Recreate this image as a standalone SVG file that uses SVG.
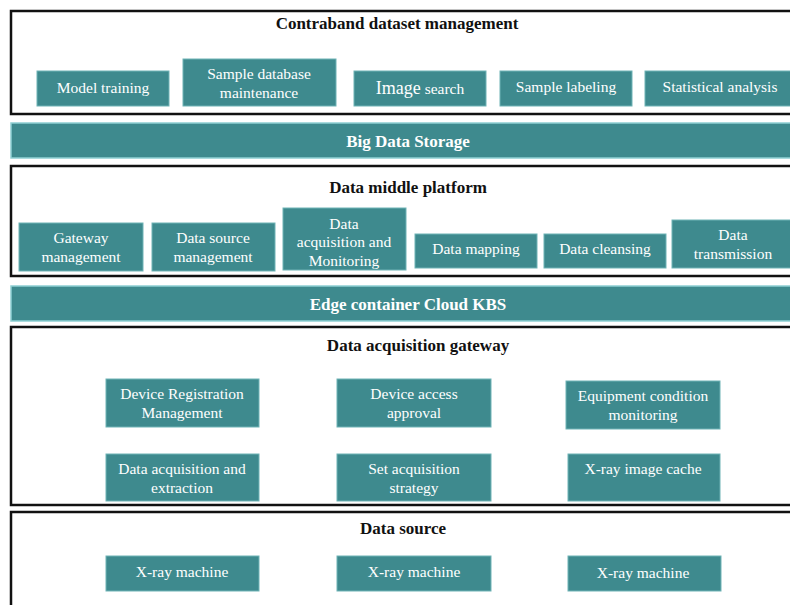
<svg xmlns="http://www.w3.org/2000/svg" width="790" height="605" viewBox="0 0 790 605" font-family="Liberation Serif, Times New Roman, DejaVu Serif, serif">
<style>
.panel{fill:#fff;stroke:#111;stroke-width:2.5}
.box{fill:#3e8a8e;stroke:#6fb3b6;stroke-width:1}
.bar{fill:#3e8a8e;stroke:#8fd0d3;stroke-width:1.5}
.t{font-size:15.5px;fill:#fff;text-anchor:middle}
.h{font-size:17px;font-weight:bold;fill:#111;text-anchor:middle}
.hb{font-size:17px;font-weight:bold;fill:#fff;text-anchor:middle}
</style>
<rect width="790" height="605" fill="#fff"/>
<g id="layer-contraband">
<rect class="panel" x="11" y="11" width="782" height="103"/>
<text class="h" x="397" y="29">Contraband dataset management</text>
</g>
<g id="model-training"><rect class="box" x="37" y="71" width="132" height="35"/><text class="t" x="103" y="93">Model training</text></g>
<g id="sample-db"><rect class="box" x="183" y="59" width="153" height="47"/><text class="t" x="259" y="79">Sample database</text><text class="t" x="259" y="98">maintenance</text></g>
<g id="image-search"><rect class="box" x="354" y="71" width="132" height="35"/><text class="t" x="420" y="94"><tspan font-size="18">Image</tspan> search</text></g>
<g id="sample-labeling"><rect class="box" x="500" y="71" width="132" height="35"/><text class="t" x="566" y="92">Sample labeling</text></g>
<g id="statistical-analysis"><rect class="box" x="645" y="71" width="150" height="35"/><text class="t" x="720" y="92">Statistical analysis</text></g>
<g id="big-data-storage"><rect class="bar" x="11" y="123" width="782" height="35"/><text class="hb" x="408" y="147">Big Data Storage</text></g>
<g id="layer-middle">
<rect class="panel" x="11" y="166" width="782" height="110"/>
<text class="h" x="408" y="193">Data middle platform</text>
</g>
<g id="gateway-management"><rect class="box" x="19" y="223" width="124" height="48"/><text class="t" x="81" y="243">Gateway</text><text class="t" x="81" y="262">management</text></g>
<g id="data-source-management"><rect class="box" x="152" y="223" width="123" height="48"/><text class="t" x="213" y="243">Data source</text><text class="t" x="213" y="262">management</text></g>
<g id="data-acq-monitoring"><rect class="box" x="283" y="208" width="123" height="62"/><text class="t" x="344" y="229">Data</text><text class="t" x="344" y="247">acquisition and</text><text class="t" x="344" y="266">Monitoring</text></g>
<g id="data-mapping"><rect class="box" x="415" y="234" width="122" height="34"/><text class="t" x="476" y="254">Data mapping</text></g>
<g id="data-cleansing"><rect class="box" x="544" y="234" width="122" height="34"/><text class="t" x="605" y="254">Data cleansing</text></g>
<g id="data-transmission"><rect class="box" x="672" y="220" width="123" height="48"/><text class="t" x="733" y="240">Data</text><text class="t" x="733" y="259">transmission</text></g>
<g id="edge-container"><rect class="bar" x="11" y="286" width="782" height="35"/><text class="hb" x="408" y="310">Edge container Cloud KBS</text></g>
<g id="layer-gateway">
<rect class="panel" x="11" y="327" width="782" height="178"/>
<text class="h" x="418" y="351">Data acquisition gateway</text>
</g>
<g id="device-registration"><rect class="box" x="106" y="379" width="153" height="48"/><text class="t" x="182" y="399">Device Registration</text><text class="t" x="182" y="418">Management</text></g>
<g id="device-access"><rect class="box" x="337" y="379" width="154" height="48"/><text class="t" x="414" y="399">Device access</text><text class="t" x="414" y="418">approval</text></g>
<g id="equipment-monitoring"><rect class="box" x="566" y="381" width="154" height="48"/><text class="t" x="643" y="401">Equipment condition</text><text class="t" x="643" y="420">monitoring</text></g>
<g id="data-acq-extraction"><rect class="box" x="106" y="454" width="153" height="47"/><text class="t" x="182" y="474">Data acquisition and</text><text class="t" x="182" y="493">extraction</text></g>
<g id="set-strategy"><rect class="box" x="337" y="454" width="154" height="47"/><text class="t" x="414" y="474">Set acquisition</text><text class="t" x="414" y="493">strategy</text></g>
<g id="xray-cache"><rect class="box" x="568" y="454" width="152" height="47"/><text class="t" x="643" y="474">X-ray image cache</text></g>
<g id="layer-source">
<rect class="panel" x="11" y="512" width="782" height="100"/>
<text class="h" x="403" y="534">Data source</text>
</g>
<g id="xray-1"><rect class="box" x="106" y="556" width="153" height="35"/><text class="t" x="182" y="577">X-ray machine</text></g>
<g id="xray-2"><rect class="box" x="337" y="556" width="154" height="35"/><text class="t" x="414" y="577">X-ray machine</text></g>
<g id="xray-3"><rect class="box" x="568" y="556" width="153" height="35"/><text class="t" x="643" y="578">X-ray machine</text></g>
<g id="connectors"></g>
</svg>
